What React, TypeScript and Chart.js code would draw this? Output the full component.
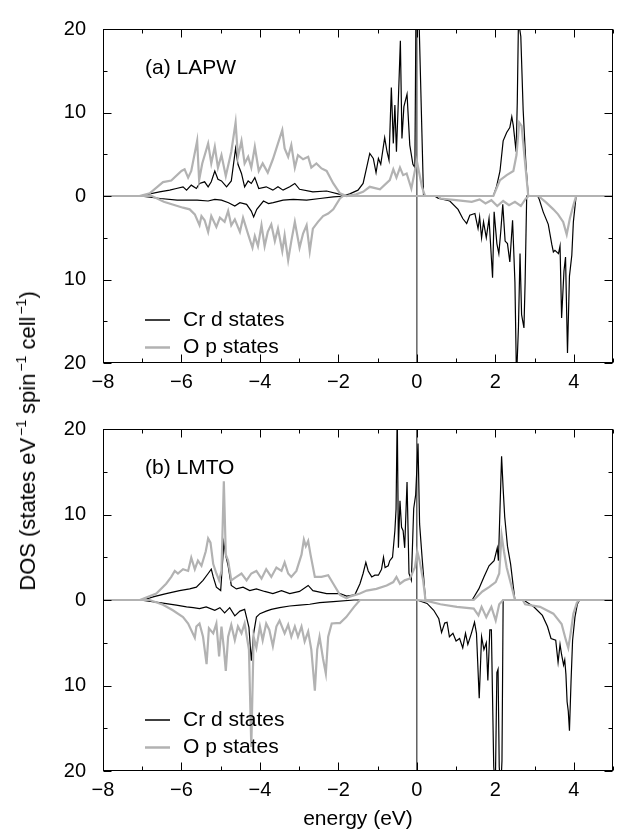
import React, { useEffect, useRef } from 'react';
import { Chart, registerables } from 'chart.js';

Chart.register(...registerables);

type Pt = [number, number];

// ---------- axis ranges / labels ----------
const X_MIN = -8;
const X_MAX = 5;
const Y_LIM = 20;
const X_STEP = 2;
const Y_STEP = 10;
const PANEL_LABELS = ['(a) LAPW', '(b) LMTO'];
const LEGEND_LABELS = ['Cr d states', 'O p states'];
const X_TITLE = 'energy (eV)';

// ---------- (a) LAPW : [energy (eV), DOS] ----------
const lapwCrUp: Pt[] = [
  [-8, 0], [-7.06, 0], [-6.56, 0.5], [-6.3, 0.7], [-6.13, 0.9], [-5.96, 1.1], [-5.87, 0.7], [-5.75, 1.3],
  [-5.62, 0.9], [-5.54, 1.5], [-5.41, 1.7], [-5.32, 1.1], [-5.24, 1.7], [-5.15, 3.0], [-5.07, 2.0],
  [-4.98, 1.8], [-4.85, 1.1], [-4.73, 1.8], [-4.62, 5.7], [-4.56, 3.8], [-4.47, 2.7], [-4.39, 1.1],
  [-4.3, 1.8], [-4.22, 1.5], [-4.13, 2.2], [-4.03, 0.9], [-3.84, 1.1], [-3.67, 0.7], [-3.54, 1.1],
  [-3.41, 0.7], [-3.24, 1.1], [-3.11, 1.5], [-2.99, 0.8], [-2.65, 0.5], [-2.3, 0.6], [-1.96, 0.2],
  [-1.85, 0.05], [-1.71, 0.25], [-1.5, 0.7], [-1.37, 1.5], [-1.28, 3.4], [-1.2, 5.1], [-1.11, 4.5],
  [-1.04, 2.8], [-0.98, 4.5], [-0.92, 3.8], [-0.82, 7.0], [-0.76, 5.3], [-0.71, 4.3], [-0.65, 13.0],
  [-0.6, 6.3], [-0.56, 10.9], [-0.52, 5.3], [-0.48, 10.3], [-0.42, 18.6], [-0.38, 6.9], [-0.33, 10.7],
  [-0.25, 12.2], [-0.18, 6.1], [-0.1, 3.8], [-0.05, 3.4], [-0.02, 24], [0.04, 24], [0.17, 0],
  [1.95, 0], [2.03, 1.1], [2.12, 3.0], [2.2, 6.6], [2.29, 7.6], [2.37, 8.2], [2.42, 9.5], [2.46, 8.4],
  [2.53, 5.3], [2.56, 11.2], [2.59, 21], [2.65, 19.1], [2.71, 10.3], [2.78, 3.8], [2.84, 0], [5, 0],
];
const lapwCrDn: Pt[] = [
  [-8, 0], [-7.06, 0], [-6.54, -0.3], [-6.11, -0.5], [-5.6, -0.5], [-5.32, -0.6], [-5.15, -0.4],
  [-4.98, -0.5], [-4.8, -0.8], [-4.64, -1.2], [-4.51, -0.8], [-4.34, -1.0], [-4.22, -1.8], [-4.16, -2.5],
  [-4.08, -1.6], [-3.91, -0.6], [-3.78, -0.9], [-3.66, -0.8], [-3.41, -0.5], [-3.15, -0.4], [-2.81, -0.5],
  [-2.47, -0.3], [-2.13, -0.1], [-1.8, 0], [0.45, 0], [0.54, -0.25], [0.84, -0.6], [1.05, -1.6],
  [1.17, -2.7], [1.27, -3.3], [1.35, -2.3], [1.48, -2.1], [1.56, -3.9], [1.6, -2.5], [1.65, -5.0],
  [1.7, -3.1], [1.77, -5.0], [1.84, -2.7], [1.93, -9.8], [1.97, -1.9], [2.04, -5.7], [2.09, -6.9],
  [2.14, -4.2], [2.19, -1.0], [2.25, -5.4], [2.31, -5.7], [2.37, -7.9], [2.44, -2.9], [2.5, -10.3],
  [2.54, -22], [2.59, -15.7], [2.63, -6.9], [2.67, -14.2], [2.73, -15.8], [2.76, -10.3], [2.8, 0],
  [3.08, 0], [3.12, -0.4], [3.22, -1.9], [3.35, -3.4], [3.44, -5.8], [3.48, -6.7], [3.52, -6.5],
  [3.61, -6.9], [3.65, -6.0], [3.69, -14.6], [3.75, -9.0], [3.79, -7.3], [3.84, -18.8], [3.89, -9.6],
  [3.95, -7.1], [3.99, -3.1], [4.06, 0], [5, 0],
];
const lapwOpUp: Pt[] = [
  [-8, 0], [-7.07, 0], [-6.81, 0.32], [-6.47, 1.67], [-6.26, 1.86], [-6.0, 3.0], [-5.92, 3.2],
  [-5.83, 2.2], [-5.75, 3.0], [-5.6, 6.6], [-5.55, 1.9], [-5.47, 3.9], [-5.32, 6.3], [-5.24, 3.9],
  [-5.15, 5.9], [-5.07, 3.4], [-4.98, 4.9], [-4.87, 2.4], [-4.73, 5.3], [-4.62, 8.8], [-4.56, 4.7],
  [-4.47, 6.6], [-4.39, 3.9], [-4.3, 4.7], [-4.22, 3.4], [-4.13, 5.9], [-4.03, 3.0], [-3.93, 3.9],
  [-3.8, 2.8], [-3.67, 4.4], [-3.58, 5.7], [-3.43, 7.9], [-3.37, 5.7], [-3.28, 4.7], [-3.2, 6.1],
  [-3.11, 3.4], [-3.03, 4.9], [-2.9, 4.4], [-2.77, 4.7], [-2.69, 3.4], [-2.56, 3.9], [-2.43, 3.3],
  [-2.3, 3.0], [-2.13, 1.5], [-1.96, 0.32], [-1.79, 0], [-1.55, 0.2], [-1.37, 0.5], [-1.2, 1.1],
  [-0.94, 0.8], [-0.69, 1.9], [-0.6, 3.2], [-0.52, 2.2], [-0.43, 3.4], [-0.35, 2.5], [-0.26, 2.7],
  [-0.14, 0.9], [0.0, 4.2], [0.13, 1.1], [0.21, 0], [1.95, 0], [2.12, 1.9], [2.29, 2.5], [2.46, 3.0],
  [2.54, 4.9], [2.61, 8.8], [2.67, 8.4], [2.76, 3.9], [2.84, 0], [5, 0],
];
const lapwOpDn: Pt[] = [
  [-8, 0], [-6.75, 0], [-6.45, -0.7], [-5.96, -1.4], [-5.79, -1.6], [-5.66, -2.2], [-5.54, -3.5],
  [-5.49, -2.4], [-5.41, -2.9], [-5.32, -4.3], [-5.24, -2.4], [-5.11, -3.7], [-5.02, -2.6], [-4.9, -3.1],
  [-4.81, -1.8], [-4.73, -3.5], [-4.64, -2.8], [-4.51, -4.3], [-4.43, -2.6], [-4.3, -4.6], [-4.19, -6.2],
  [-4.13, -4.8], [-4.05, -6.0], [-3.96, -3.5], [-3.88, -6.0], [-3.8, -4.3], [-3.71, -3.4], [-3.62, -5.4],
  [-3.54, -3.9], [-3.43, -6.6], [-3.37, -4.7], [-3.28, -7.7], [-3.2, -5.4], [-3.11, -3.1], [-2.99, -6.2],
  [-2.9, -4.5], [-2.81, -3.5], [-2.73, -6.6], [-2.65, -3.9], [-2.52, -3.1], [-2.39, -2.4], [-2.26, -2.1],
  [-2.13, -1.6], [-1.96, -0.3], [-1.88, 0], [0.55, 0], [0.6, -0.3], [1.0, -0.5], [1.4, -0.7], [1.6, -0.4],
  [1.75, -0.9], [1.9, -0.5], [2.05, -1.2], [2.2, -0.6], [2.35, -1.1], [2.5, -0.7], [2.65, -1.2],
  [2.78, -0.3], [2.85, 0], [3.1, 0], [3.3, -0.8], [3.48, -1.6], [3.6, -2.2], [3.73, -3.1], [3.82, -4.6],
  [3.9, -2.7], [3.99, -1.1], [4.06, 0], [5, 0],
];

// ---------- (b) LMTO : [energy (eV), DOS] ----------
const lmtoCrUp: Pt[] = [
  [-8, 0], [-6.97, 0], [-6.7, 0.4], [-6.39, 0.75], [-6.05, 1.1], [-5.79, 1.3], [-5.62, 1.5], [-5.45, 2.3],
  [-5.32, 3.1], [-5.24, 3.6], [-5.19, 2.7], [-5.11, 1.5], [-5.0, 1.1], [-4.92, 6.7], [-4.87, 5.2],
  [-4.81, 4.0], [-4.73, 1.7], [-4.6, 1.3], [-4.43, 1.5], [-4.26, 1.1], [-4.09, 1.3], [-3.88, 1.0],
  [-3.67, 0.75], [-3.45, 1.1], [-3.24, 0.75], [-2.99, 1.0], [-2.77, 1.7], [-2.65, 1.1], [-2.3, 0.75],
  [-1.96, 0.75], [-1.79, 0.45], [-1.58, 0.6], [-1.45, 1.9], [-1.37, 3.1], [-1.3, 4.4], [-1.24, 3.4],
  [-1.15, 2.7], [-1.07, 2.9], [-0.98, 2.9], [-0.9, 3.6], [-0.85, 5.0], [-0.81, 3.8], [-0.73, 4.0],
  [-0.69, 4.6], [-0.62, 5.0], [-0.56, 8.1], [-0.53, 10.6], [-0.5, 22], [-0.47, 6.1], [-0.43, 11.6],
  [-0.39, 8.5], [-0.35, 8.1], [-0.31, 6.1], [-0.25, 13.8], [-0.2, 3.1], [-0.14, 2.3], [-0.08, 10.7],
  [-0.03, 12.3], [0.03, 18.3], [0.07, 8.9], [0.14, 4.6], [0.22, 0], [1.41, 0], [1.58, 1.3], [1.71, 2.7],
  [1.84, 4.0], [1.97, 4.6], [2.05, 6.1], [2.08, 4.6], [2.11, 9.2], [2.16, 16.8], [2.2, 13.0], [2.24, 9.7],
  [2.31, 6.3], [2.39, 4.2], [2.46, 1.5], [2.5, 0], [5, 0],
];
const lmtoCrDn: Pt[] = [
  [-8, 0], [-7.06, 0], [-6.56, -0.3], [-6.13, -0.6], [-5.87, -0.8], [-5.7, -0.9], [-5.54, -1.0],
  [-5.37, -0.8], [-5.15, -1.2], [-5.02, -0.9], [-4.9, -1.5], [-4.77, -0.9], [-4.64, -1.85], [-4.51, -1.3],
  [-4.39, -1.1], [-4.28, -3.2], [-4.22, -7.1], [-4.16, -3.9], [-4.09, -2.0], [-4.0, -1.6], [-3.84, -1.3],
  [-3.71, -1.1], [-3.5, -0.9], [-3.24, -0.7], [-2.99, -0.6], [-2.73, -0.5], [-2.48, -0.3], [-2.13, -0.2],
  [-1.6, 0], [0, 0], [0.26, -0.4], [0.43, -1.2], [0.56, -2.2], [0.63, -3.8], [0.71, -2.7], [0.77, -2.6],
  [0.83, -4.3], [0.92, -3.9], [1.0, -4.8], [1.09, -4.5], [1.17, -5.6], [1.24, -3.9], [1.3, -5.2],
  [1.39, -3.9], [1.47, -2.6], [1.52, -3.9], [1.59, -11.5], [1.65, -4.3], [1.71, -5.8], [1.77, -5.0],
  [1.81, -9.4], [1.86, -3.5], [1.9, -3.5], [1.96, -19.5], [2.0, -22], [2.04, -8.5], [2.07, -8.1],
  [2.1, -19.5], [2.14, -22], [2.17, -18.8], [2.2, 0], [2.72, 0], [2.98, -0.8], [3.2, -1.8], [3.33, -3.1],
  [3.42, -4.5], [3.54, -4.7], [3.6, -7.3], [3.65, -5.2], [3.69, -6.4], [3.74, -7.6], [3.77, -7.0],
  [3.8, -8.7], [3.83, -11.9], [3.86, -13.0], [3.89, -15.3], [3.93, -9.6], [3.97, -4.7], [4.03, -2.0],
  [4.09, -0.5], [4.15, 0], [5, 0],
];
const lmtoOpUp: Pt[] = [
  [-8, 0], [-7.06, 0], [-6.64, 0.75], [-6.39, 1.9], [-6.26, 2.7], [-6.17, 3.4], [-6.09, 3.1], [-5.96, 3.6],
  [-5.83, 3.4], [-5.75, 4.95], [-5.66, 3.6], [-5.58, 4.6], [-5.49, 4.0], [-5.38, 5.7], [-5.32, 7.2],
  [-5.26, 6.7], [-5.19, 4.2], [-5.11, 3.1], [-5.04, 2.3], [-4.98, 3.4], [-4.92, 13.9], [-4.87, 5.3],
  [-4.81, 4.6], [-4.73, 2.3], [-4.6, 2.7], [-4.47, 3.1], [-4.34, 2.3], [-4.22, 3.1], [-4.09, 3.4],
  [-3.96, 2.5], [-3.84, 3.6], [-3.71, 2.7], [-3.58, 3.8], [-3.45, 3.4], [-3.37, 4.4], [-3.28, 3.1],
  [-3.2, 2.7], [-3.07, 3.4], [-2.94, 5.3], [-2.88, 7.05], [-2.83, 6.3], [-2.77, 6.9], [-2.71, 5.3],
  [-2.6, 2.7], [-2.43, 2.7], [-2.26, 2.9], [-2.13, 1.9], [-1.96, 0.6], [-1.79, 0.2], [-1.71, 0.4],
  [-1.45, 0.75], [-1.28, 1.1], [-1.03, 1.3], [-0.77, 1.7], [-0.6, 2.1], [-0.52, 2.7], [-0.43, 1.9],
  [-0.31, 2.3], [-0.18, 2.5], [-0.05, 3.8], [0.01, 5.7], [0.07, 4.6], [0.16, 2.3], [0.22, 0], [1.45, 0],
  [1.67, 1.0], [1.84, 1.5], [2.01, 2.1], [2.1, 3.1], [2.16, 7.6], [2.22, 5.7], [2.29, 3.8], [2.42, 1.5],
  [2.5, 0], [5, 0],
];
const lmtoOpDn: Pt[] = [
  [-8, 0], [-6.81, 0], [-6.47, -0.55], [-6.22, -1.2], [-5.96, -2.0], [-5.83, -2.75], [-5.66, -4.4],
  [-5.62, -3.1], [-5.54, -2.75], [-5.45, -4.3], [-5.36, -7.5], [-5.3, -3.3], [-5.19, -3.9], [-5.11, -2.75],
  [-5.04, -6.6], [-4.98, -3.1], [-4.92, -5.6], [-4.87, -8.3], [-4.81, -4.3], [-4.73, -2.9], [-4.64, -4.7],
  [-4.56, -3.1], [-4.47, -3.9], [-4.39, -2.75], [-4.28, -5.8], [-4.22, -17.2], [-4.16, -4.3], [-4.09, -5.6],
  [-4.0, -3.1], [-3.93, -4.7], [-3.84, -2.75], [-3.76, -3.5], [-3.67, -5.4], [-3.58, -3.1], [-3.5, -2.4],
  [-3.37, -3.9], [-3.28, -2.9], [-3.2, -4.3], [-3.11, -3.1], [-3.03, -4.3], [-2.94, -3.1], [-2.86, -4.85],
  [-2.77, -3.7], [-2.69, -5.8], [-2.6, -10.6], [-2.54, -5.8], [-2.48, -4.3], [-2.39, -6.9], [-2.32, -8.6],
  [-2.26, -4.3], [-2.17, -2.75], [-2.05, -2.7], [-1.96, -2.7], [-1.8, -2.0], [-1.6, -0.8], [-1.45, 0],
  [0, 0], [0.26, -0.1], [0.6, -0.5], [1.02, -0.8], [1.45, -1.0], [1.57, -1.8], [1.65, -0.8], [1.77, -2.0],
  [1.9, -0.8], [2.01, -2.4], [2.1, -0.5], [2.2, 0], [2.7, 0], [2.76, -0.5], [3.14, -0.8], [3.48, -1.6],
  [3.69, -2.8], [3.8, -4.7], [3.86, -5.6], [3.92, -3.9], [3.99, -1.6], [4.08, -0.3], [4.15, 0], [5, 0],
];

// ---------- styling ----------
const FONT = "'Liberation Sans', Arial, Helvetica, sans-serif";
const CR_COLOR = '#000000';
const OP_COLOR = '#b2b2b2';
const CR_WIDTH = 1.2;
const OP_WIDTH = 2.2;

const toXY = (arr: Pt[]) => arr.map(([x, y]) => ({ x, y }));

const decorPlugin = {
  id: 'decor',
  afterDatasetsDraw(chart: any, _args: any, opts: any) {
    const { ctx, chartArea: a, scales } = chart;
    const xs = scales.x;
    const ys = scales.y;
    const L = Math.round(a.left) + 0.5;
    const R = Math.round(a.right) - 0.5;
    const T = Math.round(a.top) + 0.5;
    const B = Math.round(a.bottom) - 0.5;
    ctx.save();
    ctx.strokeStyle = '#000';
    ctx.lineWidth = 1;
    ctx.strokeRect(L, T, R - L, B - T);
    ctx.beginPath();
    for (let v = X_MIN; v <= X_MAX; v += 1) {
      const px = Math.round(xs.getPixelForValue(v)) + 0.5;
      const len = v % 2 === 0 ? 8 : 4;
      ctx.moveTo(px, B);
      ctx.lineTo(px, B - len);
      ctx.moveTo(px, T);
      ctx.lineTo(px, T + len);
    }
    for (let v = -Y_LIM; v <= Y_LIM; v += 5) {
      const py = Math.round(ys.getPixelForValue(v)) + 0.5;
      const len = v % 10 === 0 ? 8 : 4;
      ctx.moveTo(L, py);
      ctx.lineTo(L + len, py);
      ctx.moveTo(R, py);
      ctx.lineTo(R - len, py);
    }
    ctx.stroke();

    // panel label
    ctx.fillStyle = '#000';
    ctx.textBaseline = 'middle';
    ctx.textAlign = 'left';
    ctx.font = `21px ${FONT}`;
    ctx.fillText(opts.label, a.left + 42, a.top + 39);

    // legend
    const rows = [
      { text: LEGEND_LABELS[0], color: CR_COLOR, width: CR_WIDTH + 0.3 },
      { text: LEGEND_LABELS[1], color: OP_COLOR, width: OP_WIDTH + 0.3 },
    ];
    rows.forEach((r, i) => {
      const y = a.top + 291 + i * 27.5;
      ctx.beginPath();
      ctx.strokeStyle = r.color;
      ctx.lineWidth = r.width;
      ctx.moveTo(a.left + 42, y);
      ctx.lineTo(a.left + 67, y);
      ctx.stroke();
      ctx.fillStyle = '#000';
      ctx.fillText(r.text, a.left + 80, y);
    });
    ctx.restore();
  },
};

function makeConfig(
  label: string,
  crUp: Pt[],
  crDn: Pt[],
  opUp: Pt[],
  opDn: Pt[],
  padTop: number,
  axisH: number,
  fermiColor: string,
  fermiWidth: number,
  showTitle: boolean
): any {
  const line = (data: Pt[], color: string, width: number) => ({
    data: toXY(data),
    borderColor: color,
    borderWidth: width,
    pointRadius: 0,
    tension: 0,
    fill: false,
  });
  return {
    type: 'line',
    data: {
      datasets: [
        line(opUp, OP_COLOR, OP_WIDTH),
        line(opDn, OP_COLOR, OP_WIDTH),
        line(crUp, CR_COLOR, CR_WIDTH),
        line(crDn, CR_COLOR, CR_WIDTH),
        line([[0, -Y_LIM], [0, Y_LIM]], fermiColor, fermiWidth),
      ],
    },
    options: {
      responsive: false,
      animation: false,
      devicePixelRatio: 1,
      layout: { padding: { left: 0, right: 7, top: padTop, bottom: 0 } },
      plugins: {
        legend: { display: false },
        tooltip: { enabled: false },
        decor: { label },
      },
      scales: {
        x: {
          type: 'linear',
          position: 'bottom',
          min: X_MIN,
          max: X_MAX,
          grid: { display: false, drawTicks: false },
          border: { display: false },
          ticks: {
            stepSize: X_STEP,
            includeBounds: false,
            autoSkip: false,
            maxRotation: 0,
            padding: 7,
            color: '#000',
            font: { family: FONT, size: 20 },
            callback: (v: number) => (v < 0 ? '\u2212' + Math.abs(v) : String(v)),
          },
          title: {
            display: showTitle,
            text: X_TITLE,
            color: '#000',
            font: { family: FONT, size: 21 },
            padding: { top: 0, bottom: 0 },
          },
          afterFit: (s: any) => {
            s.height = axisH;
          },
        },
        y: {
          type: 'linear',
          position: 'left',
          min: -Y_LIM,
          max: Y_LIM,
          grid: { display: false, drawTicks: false },
          border: { display: false },
          ticks: {
            stepSize: Y_STEP,
            padding: 17,
            color: '#000',
            font: { family: FONT, size: 20 },
            callback: (v: number) => String(Math.abs(v)),
          },
          afterFit: (s: any) => {
            s.width = 103;
          },
        },
      },
    },
    plugins: [decorPlugin],
  };
}

export default function App() {
  const refA = useRef<HTMLCanvasElement>(null);
  const refB = useRef<HTMLCanvasElement>(null);

  useEffect(() => {
    const a = new Chart(
      refA.current as HTMLCanvasElement,
      makeConfig(PANEL_LABELS[0], lapwCrUp, lapwCrDn, lapwOpUp, lapwOpDn, 15, 37, '#5a5a5a', 1.4, false)
    );
    const b = new Chart(
      refB.current as HTMLCanvasElement,
      makeConfig(PANEL_LABELS[1], lmtoCrUp, lmtoCrDn, lmtoOpUp, lmtoOpDn, 22, 61, '#111111', 1, true)
    );
    return () => {
      a.destroy();
      b.destroy();
    };
  }, []);

  const sup: React.CSSProperties = {
    fontSize: 14,
    position: 'relative',
    top: -9,
    verticalAlign: 'baseline',
    marginLeft: 2,
    marginRight: 6,
  };

  return (
    <div style={{ position: 'absolute', left: 0, top: 0, width: 620, height: 832, background: '#fff' }}>
      <canvas ref={refA} width={620} height={400} style={{ position: 'absolute', left: 0, top: 0, width: 620, height: 400 }} />
      <canvas ref={refB} width={620} height={432} style={{ position: 'absolute', left: 0, top: 400, width: 620, height: 432 }} />
      <div
        style={{
          position: 'absolute',
          left: 28,
          top: 441,
          transform: 'translate(-50%, -50%) rotate(-90deg)',
          whiteSpace: 'nowrap',
          fontFamily: FONT,
          fontSize: 22,
          lineHeight: 1,
          color: '#000',
        }}
      >
        DOS (states eV<span style={sup}>−1</span>spin<span style={sup}>−1</span>cell<span style={{ ...sup, marginRight: 0 }}>−1</span>)
      </div>
    </div>
  );
}
